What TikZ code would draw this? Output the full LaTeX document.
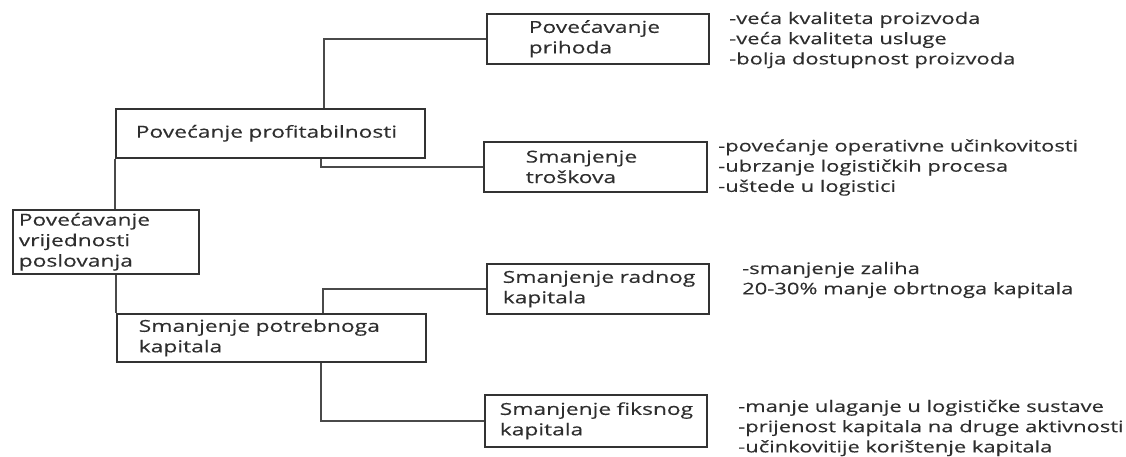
\documentclass[tikz,border=0pt]{standalone}
\usepackage{fontspec}
\setmainfont{Open Sans}[FakeStretch=1.38,FakeBold=0.3]
\usetikzlibrary{calc}

\definecolor{boxgray}{HTML}{333333}
\definecolor{linegray}{HTML}{4A4A4A}
\definecolor{txtgray}{HTML}{2E2E2E}
\newcommand{\chartfont}{\fontsize{16.5}{20.5}\selectfont\hyphenpenalty=10000}
\newcommand{\notefont}{\fontsize{15.9}{20.2}\selectfont}

\tikzset{
  box/.style={draw=boxgray,line width=1.6pt,anchor=north west,align=left,
    inner ysep=0pt,text=txtgray,font=\chartfont},
  note/.style={anchor=west,align=left,inner sep=0pt,text=txtgray,font=\notefont},
  link/.style={draw=linegray,line width=1.6pt}
}

\begin{document}
\begin{tikzpicture}[x=1pt,y=-1pt]
    \useasboundingbox (0,0) rectangle (1126,457);
    % boxes
    \node[box,minimum width=186,minimum height=64,inner xsep=6,text width=174] (root) at (12,209) {Povećavanje\\vrijednosti\\poslovanja};
    \node[box,minimum width=309,minimum height=49,inner xsep=20,text width=269] (profit) at (115,108) {Povećanje~profitabilnosti};
    \node[box,minimum width=309,minimum height=48,inner xsep=22,text width=265] (capital) at (116,313) {Smanjenje~potrebnoga\\kapitala};
    \node[box,minimum width=222,minimum height=50,inner xsep=42,text width=138] (revenue) at (486,13) {Povećavanje\\prihoda};
    \node[box,minimum width=223,minimum height=50,inner xsep=42,text width=139] (costs) at (483,141) {Smanjenje\\troškova};
    \node[box,minimum width=222,minimum height=50,inner xsep=16,text width=190] (working) at (486,263) {Smanjenje~radnog\\kapitala};
    \node[box,minimum width=222,minimum height=52,inner xsep=15,text width=192] (fixed) at (484,394) {Smanjenje~fiksnog\\kapitala};
    % lists
    \node[note] (revenuenote) at (729,40) {-veća kvaliteta proizvoda\\-veća kvaliteta usluge\\-bolja dostupnost proizvoda};
    \node[note] (costsnote) at (718,167.5) {-povećanje operativne učinkovitosti\\-ubrzanje logističkih procesa\\-uštede u logistici};
    \node[note] (workingnote) at (742,280) {-smanjenje zaliha\\20-30\% manje obrtnoga kapitala};
    \node[note] (fixednote) at (738,428) {-manje ulaganje u logističke sustave\\-prijenost kapitala na druge aktivnosti\\-učinkovitije korištenje kapitala};
    % connectors
    \draw[link] (profit.south west) -- (profit.south west |- root.north);
    \draw[link] (root.south -| capital.north west) -- (capital.north west);
    \draw[link] ($(profit.north west)!.673!(profit.north east)$) |- (revenue.west);
    \draw[link] ($(profit.south west)!.663!(profit.south east)$) |- (costs.west);
    \draw[link] ($(capital.north west)!.667!(capital.north east)$) |- (working.west);
    \draw[link] ($(capital.south west)!.660!(capital.south east)$) |- (fixed.west);
\end{tikzpicture}
\end{document}
